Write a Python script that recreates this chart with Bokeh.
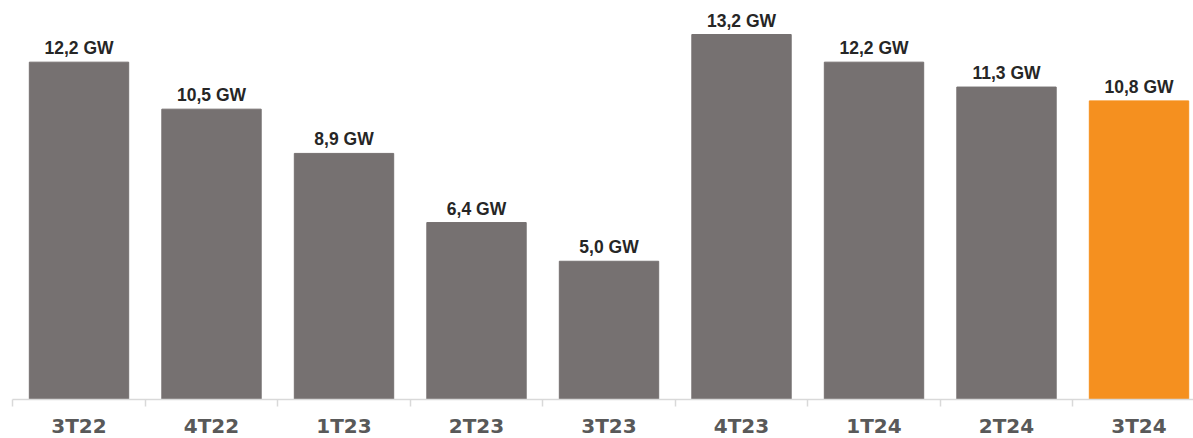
from bokeh.plotting import figure
from bokeh.models import ColumnDataSource, Range1d, FixedTicker
from bokeh.core.properties import value
from bokeh.embed import file_html
from bokeh.resources import INLINE

categories = ["3T22", "4T22", "1T23", "2T23", "3T23", "4T23", "1T24", "2T24", "3T24"]
values = [12.2, 10.5, 8.9, 6.4, 5.0, 13.2, 12.2, 11.3, 10.8]
value_labels = ["12,2 GW", "10,5 GW", "8,9 GW", "6,4 GW", "5,0 GW", "13,2 GW", "12,2 GW", "11,3 GW", "10,8 GW"]

GRAY = "#767171"
ORANGE = "#F5901F"
colors = [GRAY] * (len(categories) - 1) + [ORANGE]
xpos = [i + 0.5 for i in range(len(categories))]

src = ColumnDataSource(dict(x=xpos, top=values, color=colors, label=value_labels))

p = figure(width=1193, height=438, output_backend="svg", toolbar_location=None,
           x_range=Range1d(-0.0925, 8.9113), y_range=Range1d(-1.41, 14.43),
           min_border_left=0, min_border_right=0, min_border_top=0, min_border_bottom=0)
p.outline_line_color = None
p.grid.visible = False
p.yaxis.visible = False
p.background_fill_color = "white"
p.border_fill_color = "white"

p.vbar(x="x", top="top", bottom=0, width=0.75, color="color", source=src)
p.text(x="x", y="top", text="label", source=src, text_align="center", text_baseline="alphabetic",
       y_offset=-14, text_font=value("Liberation Sans"), text_font_style="bold",
       text_font_size="17.5px", text_color="#262626")

ax = p.xaxis[0]
ax.fixed_location = 0
ax.ticker = FixedTicker(ticks=xpos, minor_ticks=list(range(len(categories) + 1)))
ax.major_label_overrides = {x: c for x, c in zip(xpos, categories)}
ax.bounds = (0, len(categories))
ax.axis_line_color = "#D9D9D9"
ax.axis_line_width = 1.5
ax.major_tick_line_color = None
ax.minor_tick_line_color = "#D9D9D9"
ax.minor_tick_line_width = 1.5
ax.minor_tick_in = 0
ax.minor_tick_out = 7
ax.major_tick_out = 0
ax.major_tick_in = 0
ax.major_label_standoff = 7
ax.major_label_text_font = "DejaVu Sans"
ax.major_label_text_font_style = "bold"
ax.major_label_text_font_size = "20px"
ax.major_label_text_color = "#595959"

open("out.html", "w").write(file_html(p, INLINE))
